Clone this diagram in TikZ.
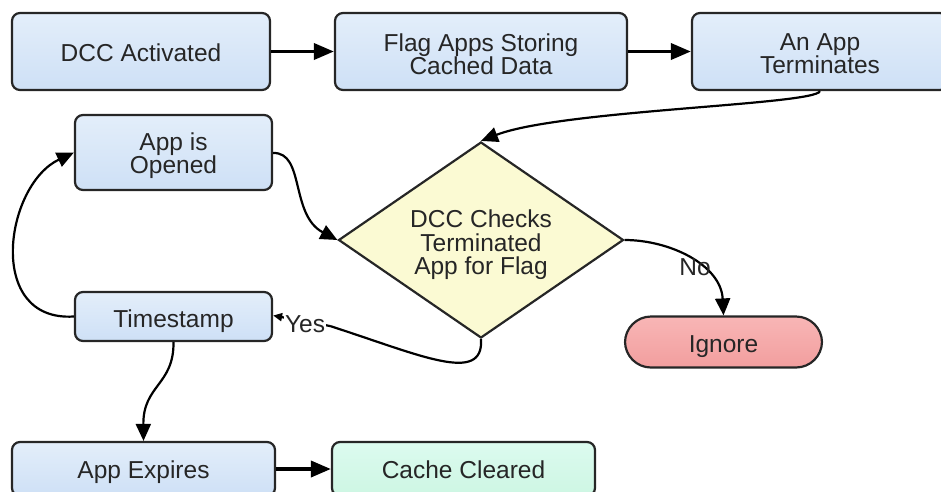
\documentclass[tikz,border=0pt]{standalone}
\usepackage{fontspec}
\setmainfont{Liberation Sans}
\usetikzlibrary{arrows.meta,shapes.geometric}

\definecolor{boxtop}{HTML}{E3EEFA}
\definecolor{boxbot}{HTML}{CEE0F6}
\definecolor{decfill}{HTML}{FBFAD3}
\definecolor{pinktop}{HTML}{F8B6B6}
\definecolor{pinkbot}{HTML}{F29E9E}
\definecolor{mintfill}{HTML}{DCFBEF}
\definecolor{mintbot}{HTML}{CDF6E3}
\definecolor{inkgray}{HTML}{262626}

\tikzset{
  base/.style={draw=black!85, line width=2.2pt, inner sep=0pt},
  stepbox/.style={base, rounded corners=8pt, top color=boxtop, bottom color=boxbot},
  donebox/.style={base, rounded corners=8pt, top color=mintfill, bottom color=mintbot},
  endpill/.style={base, rounded corners=26pt, top color=pinktop, bottom color=pinkbot},
  decision/.style={base, shape=diamond, fill=decfill, aspect=1.454,
    minimum width=285pt, minimum height=196pt},
  txt/.style={text=inkgray, align=center, inner sep=0pt,
    font=\fontsize{24.5}{23}\selectfont},
  flow/.style={line width=2.2pt, -{Triangle[length=17pt,width=15pt]}},
  boldflow/.style={line width=3.6pt, -{Triangle[length=20pt,width=16pt]}},
  lbl/.style={text=inkgray, font=\fontsize{24.5}{24}\selectfont, inner sep=1pt}
}

\begin{document}
\begin{tikzpicture}[x=1pt,y=-1pt]
\useasboundingbox (0,0) rectangle (941,491);

% top row
\node[stepbox, minimum width=258pt, minimum height=77pt] (act) at (141,51.5) {};
\node[stepbox, minimum width=292pt, minimum height=77pt] (flag) at (481,51.5) {};
\node[stepbox, minimum width=256pt, minimum height=77pt] (term) at (820,51.5) {};

% left column
\node[stepbox, minimum width=197pt, minimum height=75pt] (open) at (173.5,152.5) {};
\node[stepbox, minimum width=197pt, minimum height=49pt] (stamp) at (173.5,316.5) {};

% decision and outcomes
\node[decision] (check) at (481,240) {};
\node[endpill, minimum width=197pt, minimum height=51pt] (ign) at (723.5,342) {};

% bottom row
\node[stepbox, minimum width=263pt, minimum height=54pt] (exp) at (143.5,469) {};
\node[donebox, minimum width=263pt, minimum height=54pt] (clr) at (463.5,469) {};

% box captions
\node[txt] (actT) at ([yshift=-1pt]act.center) {DCC Activated};
\node[txt] (flagT) at ([yshift=-2.5pt]flag.center) {Flag Apps Storing\\Cached Data};
\node[txt] (termT) at ([yshift=-2.5pt]term.center) {An App\\Terminates};
\node[txt] (openT) at ([yshift=-3pt]open.center) {App is\\Opened};
\node[txt] (stampT) at ([yshift=-5pt]stamp.center) {Timestamp};
\node[txt, font=\fontsize{24.5}{23.5}\selectfont] (checkT) at ([yshift=-5pt]check.center) {DCC Checks\\Terminated\\App for Flag};
\node[txt] (ignT) at ([yshift=-5pt]ign.center) {Ignore};
\node[txt] (expT) at ([yshift=-3pt]exp.center) {App Expires};
\node[txt] (clrT) at ([yshift=-1pt]clr.center) {Cache Cleared};

% straight flow
\draw[boldflow] (act.east) -- (flag.west);
\draw[boldflow] (flag.east) -- (term.west);
\draw[boldflow] (exp.east) -- (clr.west);

% curved flow
\draw[flow] (term.south) .. controls (815,105) and (560,110) .. (check.north);
\draw[flow] ([yshift=-0.5pt]open.east) .. controls (305,152) and (290,215) .. (check.west);
\draw[flow] (stamp.west) .. controls (-15,322) and (5,185) .. (open.west);
\draw[flow] (stamp.south) .. controls (174,385) and (143,385) .. (exp.north);
\draw[flow] (check.east) .. controls (670,240) and (721,265) .. (ign.north);
\coordinate (yesbend) at (330,326);
\draw[line width=2.2pt] (check.south) .. controls (484,385) and (420,355) .. (yesbend);
\draw[line width=2.2pt, -{Triangle[length=9pt,width=8pt]}] (yesbend) -- ([yshift=1pt]stamp.east);

% branch labels
\node[lbl, fill=white] (yes) at (305,324) {Yes};
\node[lbl] (no) at (695,267) {No};
\end{tikzpicture}
\end{document}
